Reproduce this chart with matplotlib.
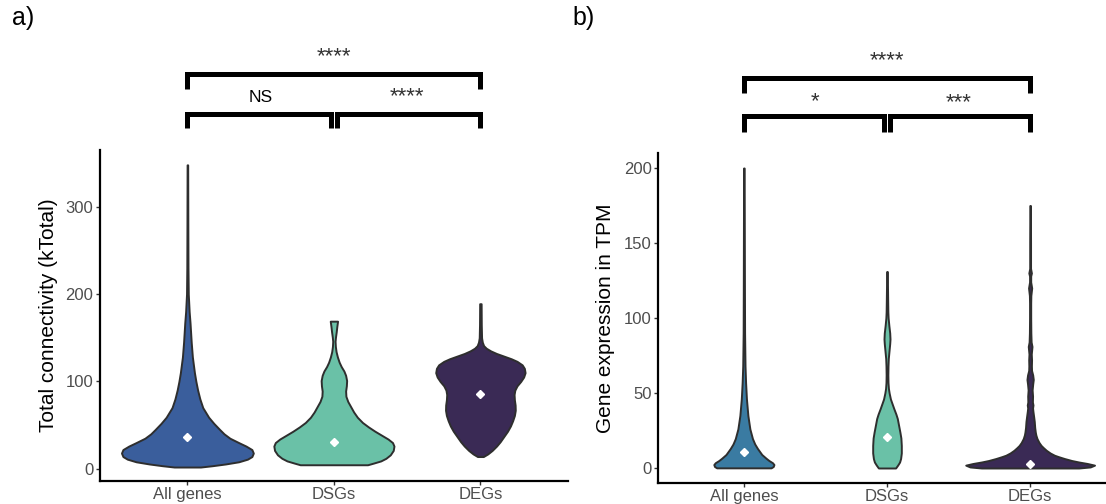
import numpy as np
import matplotlib
matplotlib.use("Agg")
import matplotlib.pyplot as plt
from matplotlib.transforms import blended_transform_factory

plt.rcParams['font.family'] = ['Liberation Sans', 'DejaVu Sans']

groups = ['All genes', 'DSGs', 'DEGs']

# violin outlines: value levels and half widths (x units) for each group
conn_levels = [
    [2, 3.5, 5.5, 8, 11, 14, 18, 22, 26, 30, 35, 40, 45, 52, 59, 70, 80, 90, 100,
     110, 128, 145, 167, 180, 200, 230, 280, 348],
    [4.6, 6.5, 9, 12, 16, 21, 26, 30, 34, 38, 43, 48, 53, 59, 65, 71, 77, 83, 89,
     95, 101, 107, 112, 117, 122, 128, 134, 140, 146, 151, 157, 163, 169],
    [14, 17, 21, 26, 31, 37, 43, 49, 55, 61, 67, 73, 79, 85, 90, 95, 100, 105,
     110, 115, 119, 123, 126, 129, 132, 135, 138, 141, 145, 150, 165, 189],
]
conn_widths = [
    [0.09, 0.17, 0.26, 0.35, 0.41, 0.44, 0.45, 0.44, 0.40, 0.35, 0.29, 0.25, 0.22,
     0.18, 0.145, 0.105, 0.085, 0.07, 0.058, 0.048, 0.034, 0.026, 0.018, 0.012,
     0.006, 0.004, 0.003, 0.002],
    [0.23, 0.27, 0.32, 0.355, 0.385, 0.405, 0.41, 0.40, 0.37, 0.33, 0.28, 0.235,
     0.195, 0.16, 0.135, 0.115, 0.095, 0.082, 0.08, 0.085, 0.087, 0.08, 0.068,
     0.05, 0.036, 0.024, 0.015, 0.01, 0.008, 0.011, 0.016, 0.02, 0.025],
    [0.02, 0.05, 0.08, 0.11, 0.135, 0.16, 0.185, 0.205, 0.22, 0.232, 0.238, 0.237,
     0.232, 0.23, 0.235, 0.25, 0.275, 0.295, 0.305, 0.30, 0.285, 0.25, 0.21, 0.16,
     0.11, 0.07, 0.04, 0.022, 0.013, 0.008, 0.006, 0.005],
]
conn_means = [36, 31, 86]

tpm_levels = [
    [0.1, 1, 2.3, 3.5, 5, 6.5, 9, 13, 16, 19.6, 26, 35, 46, 57, 68, 90, 120, 160, 200],
    [0, 2, 4, 6.3, 10, 15, 20, 24, 28, 33, 36, 39.5, 43, 46, 50, 53, 57, 62, 68,
     73, 78, 83, 86, 90, 95, 100, 104, 110, 117, 124, 131],
    [0, 0.7, 1.9, 3, 4, 5, 6.3, 7.5, 8.5, 10, 11.8, 13.5, 15, 17, 19.6, 22, 24, 27,
     31, 34, 37.5, 40, 42, 44, 48, 52, 56, 59, 62, 65, 68, 72, 76, 81, 84, 90, 100,
     110, 115, 120, 124, 128, 130, 133, 150, 175],
]
tpm_widths = [
    [0.19, 0.205, 0.21, 0.20, 0.175, 0.155, 0.125, 0.095, 0.076, 0.06, 0.042, 0.028,
     0.018, 0.012, 0.008, 0.005, 0.004, 0.003, 0.002],
    [0.06, 0.075, 0.088, 0.095, 0.1, 0.1, 0.097, 0.09, 0.082, 0.072, 0.062, 0.048,
     0.035, 0.024, 0.015, 0.01, 0.007, 0.006, 0.007, 0.009, 0.014, 0.019, 0.021,
     0.019, 0.013, 0.008, 0.006, 0.005, 0.004, 0.003, 0.002],
    [0.34, 0.42, 0.45, 0.40, 0.34, 0.29, 0.24, 0.2, 0.17, 0.14, 0.113, 0.093, 0.077,
     0.062, 0.048, 0.04, 0.036, 0.032, 0.029, 0.025, 0.02, 0.017, 0.02, 0.016,
     0.017, 0.014, 0.018, 0.022, 0.018, 0.01, 0.009, 0.01, 0.008, 0.013, 0.007,
     0.005, 0.004, 0.004, 0.005, 0.011, 0.004, 0.004, 0.009, 0.003, 0.003, 0.002],
]
tpm_means = [10.7, 20.4, 2.5]

conn_colors = ['#3A5E9C', '#6AC1A7', '#3A2A55']
tpm_colors = ['#3A7BA2', '#6AC1A7', '#3A2A55']

# significance brackets: (start group, end group, label)
conn_tests = [(1, 2, 'NS'), (2, 3, '****'), (1, 3, '****')]
tpm_tests = [(1, 2, '*'), (2, 3, '***'), (1, 3, '****')]

W, H = 1106, 504
fig = plt.figure(figsize=(W / 100, H / 100), dpi=100)


def draw_panel(ax, levels, widths, means, colors, ylim, yticks, ylabel):
    for i, (lv, wd, c) in enumerate(zip(levels, widths, colors)):
        pos = i + 1
        lv = np.asarray(lv, float)
        wd = np.asarray(wd, float)
        ax.fill_betweenx(lv, pos - wd, pos + wd, facecolor=c,
                         edgecolor='#2E2E2E', linewidth=1.4, zorder=2)
    ax.plot(np.arange(1, len(means) + 1), means, linestyle='none', marker='D',
            markersize=3.6, markerfacecolor='white', markeredgecolor='white',
            zorder=3)
    ax.set_xlim(0.4, 3.6)
    ax.set_ylim(*ylim)
    ax.set_xticks(range(1, len(groups) + 1))
    ax.set_xticklabels(groups)
    ax.set_yticks(yticks)
    for s in ['top', 'right']:
        ax.spines[s].set_visible(False)
    for s in ['left', 'bottom']:
        ax.spines[s].set_linewidth(1.6)
        ax.spines[s].set_color('black')
    ax.tick_params(axis='both', length=3, width=1, color='#333333',
                   labelcolor='#4D4D4D', labelsize=12, pad=1.5)
    ax.set_ylabel(ylabel, fontsize=15, color='black')


def to_fig(px):
    return 1 - px / H


def draw_brackets(ax, tests, low, high, text_y):
    tr = blended_transform_factory(ax.transData, fig.transFigure)
    gap = 0.02
    for k, (a, b, lab) in enumerate(tests):
        if k < 2:
            bar, foot = low
            x0 = a + (gap if a == 2 else 0)
            x1 = b - (gap if b == 2 else 0)
        else:
            bar, foot = high
            x0, x1 = a, b
        ax.plot([x0, x0, x1, x1], [to_fig(foot), to_fig(bar), to_fig(bar), to_fig(foot)],
                color='black', linewidth=3.6, solid_capstyle='butt',
                solid_joinstyle='miter', transform=tr, clip_on=False)
        if lab == 'NS':
            ax.text((a + b) / 2, to_fig(text_y[k]), lab, transform=tr,
                    ha='center', va='center', fontsize=12.5, color='black')
        else:
            ax.text((a + b) / 2, to_fig(text_y[k]), lab, transform=tr,
                    ha='center', va='center', fontsize=16, color='#333333')


# panel a
ax1 = fig.add_axes([99.5 / W, (H - 481) / H, 468.8 / W, 331 / H])
draw_panel(ax1, conn_levels, conn_widths, conn_means, conn_colors,
           (-14, 365), [0, 100, 200, 300], 'Total connectivity (kTotal)')
ax1.yaxis.set_label_coords(-0.088, 0.5)
draw_brackets(ax1, conn_tests, (114, 128), (73.5, 89), [97, 97, 57])

# panel b
ax2 = fig.add_axes([658 / W, (H - 483) / H, 458 / W, 330 / H])
draw_panel(ax2, tpm_levels, tpm_widths, tpm_means, tpm_colors,
           (-10, 210), [0, 50, 100, 150, 200], 'Gene expression in TPM')
ax2.yaxis.set_label_coords(-0.094, 0.5)
draw_brackets(ax2, tpm_tests, (116, 132), (77.5, 93), [102, 103, 61])

fig.text(12 / W, to_fig(18), 'a)', fontsize=18, va='center', ha='left')
fig.text(572 / W, to_fig(18), 'b)', fontsize=18, va='center', ha='left')

fig.savefig('out.png', dpi=100)
